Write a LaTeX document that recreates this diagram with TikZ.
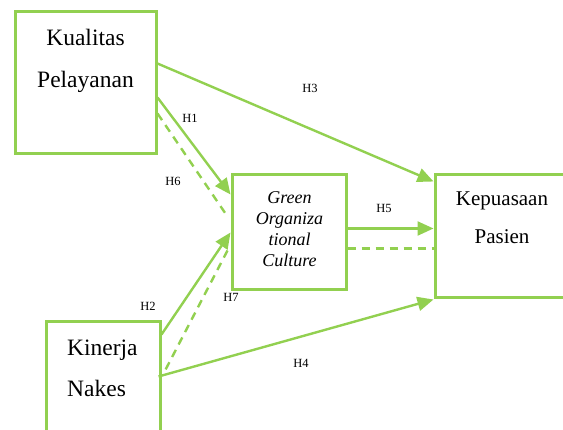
\documentclass[tikz,border=0pt]{standalone}
\usepackage{fontspec}
\setmainfont{Liberation Serif}
\usepackage{xcolor}
\usetikzlibrary{arrows.meta, positioning}
\definecolor{grn}{HTML}{92D050}
\tikzset{
  box/.style={draw=grn, line width=3pt, inner sep=0pt},
  boxtext/.style={inner sep=0pt, align=center},
  hyp/.style={inner sep=0pt, font=\fontsize{12.5}{14}\selectfont},
  arr/.style={draw=grn, line width=2.4pt, -{Triangle[length=16pt,width=14pt]}},
  darr/.style={draw=grn, line width=2.4pt, dash pattern=on 8pt off 6pt}
}

\begin{document}
\begin{tikzpicture}[x=1pt,y=-1pt]
\clip (0,0) rectangle (563,430);
% boxes
\node[box, minimum width=141pt, minimum height=142pt] (kp) at (85.5,83) {};
\node[box, minimum width=114pt, minimum height=115pt] (goc) at (289,232.5) {};
\node[box, minimum width=165pt, minimum height=123pt] (ks) at (517.5,236.5) {};
\node[box, minimum width=114pt, minimum height=148pt] (kn) at (103,396) {};
% texts
\node[boxtext, anchor=north, font=\fontsize{23.5}{42}\selectfont] (kp-txt) at (85.5,29) {Kualitas\\Pelayanan};
\node[boxtext, anchor=north, font=\fontsize{18}{21}\selectfont\itshape] (goc-txt) at (289.5,191) {Green\\Organiza\\tional\\Culture};
\node[boxtext, anchor=north, font=\fontsize{21}{38}\selectfont] (ks-txt) at (502,192) {Kepuasaan\\Pasien};
\node[boxtext, align=left, anchor=north west, font=\fontsize{23.5}{41}\selectfont] (kn-txt) at (67,340) {Kinerja\\Nakes};
% connectors
\draw[arr] ([yshift=-53pt]kp.north east) -- ([yshift=-8pt]ks.north west);
\draw[arr] ([yshift=-87pt]kp.north east) -- ([yshift=-21pt]goc.north west);
\draw[darr] ([yshift=-103pt]kp.north east) -- ([xshift=-3pt,yshift=-43pt]goc.north west);
\draw[arr] ([yshift=-14pt]kn.north east) -- ([yshift=-59pt]goc.north west);
\draw[darr] ([xshift=-3pt,yshift=-77pt]goc.north west) -- ([xshift=1pt,yshift=-55pt]kn.north east);
\draw[arr] ([xshift=-3pt,yshift=-56pt]kn.north east) -- (ks.south west);
\draw[arr] ([yshift=-55pt]goc.north east) -- ([yshift=-55pt]ks.north west);
\draw[darr] ([yshift=-75pt]goc.north east) -- ([yshift=-75pt]ks.north west);
% labels
\node[hyp] (h3) at (310,88) {H3};
\node[hyp] (h1) at (190,118) {H1};
\node[hyp] (h6) at (173,181) {H6};
\node[hyp] (h5) at (384,208) {H5};
\node[hyp] (h2) at (148,306) {H2};
\node[hyp] (h7) at (231,297) {H7};
\node[hyp] (h4) at (301,363) {H4};
\end{tikzpicture}
\end{document}
